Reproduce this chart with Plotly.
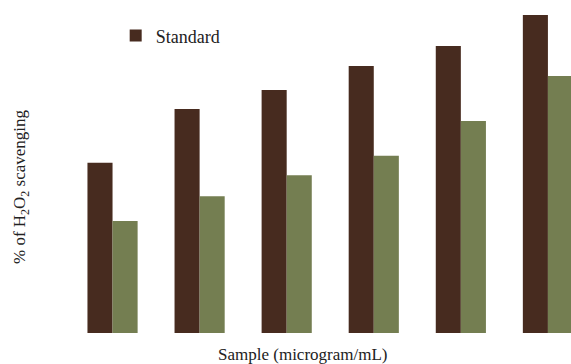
import plotly.graph_objects as go

# Sample concentration groups (axis tick labels are not shown)
concentrations = ["C1", "C2", "C3", "C4", "C5", "C6"]

# % of H2O2 scavenging
standard = [51.1, 67.3, 73.0, 80.2, 86.2, 95.5]
sample = [33.6, 41.1, 47.4, 53.2, 63.7, 77.2]

BROWN = "#472b1f"
OLIVE = "#747e51"
FONT = "Liberation Serif"

fig = go.Figure()
fig.add_trace(go.Bar(
    x=concentrations, y=standard, name="Standard",
    marker=dict(color=BROWN, line=dict(width=0)),
))
fig.add_trace(go.Bar(
    x=concentrations, y=sample, name="Sample",
    marker=dict(color=OLIVE, line=dict(width=0)),
    showlegend=False,
))

fig.update_layout(
    width=571, height=364,
    margin=dict(l=69, r=0, t=0, b=31),
    paper_bgcolor="white", plot_bgcolor="white",
    barmode="group", bargap=0.424, bargroupgap=0,
    font=dict(family=FONT, color="#222222", size=17),
    showlegend=True,
    legend=dict(
        x=0.093, y=0.948, xanchor="left", yanchor="top",
        bgcolor="rgba(0,0,0,0)", font=dict(size=18, family=FONT),
    ),
    xaxis=dict(
        range=[-0.5, 5.265], showticklabels=False, showgrid=False,
        showline=False, zeroline=False, ticks="",
    ),
    yaxis=dict(
        range=[0, 100], showticklabels=False, showgrid=False,
        showline=False, zeroline=False, ticks="",
    ),
    annotations=[
        dict(
            text="Sample (microgram/mL)", xref="paper", yref="paper",
            x=(302 - 69) / 502, y=-21 / 333, xanchor="center", yanchor="middle",
            showarrow=False, font=dict(size=17, family=FONT),
        ),
        dict(
            text="% of H<sub>2</sub>O<sub>2</sub> scavenging",
            xref="paper", yref="paper",
            x=-(69 - 21) / 502, y=(333 - 187) / 333,
            xanchor="center", yanchor="middle", textangle=-90,
            showarrow=False, font=dict(size=17, family=FONT),
        ),
    ],
)

fig.write_html("out.html")
